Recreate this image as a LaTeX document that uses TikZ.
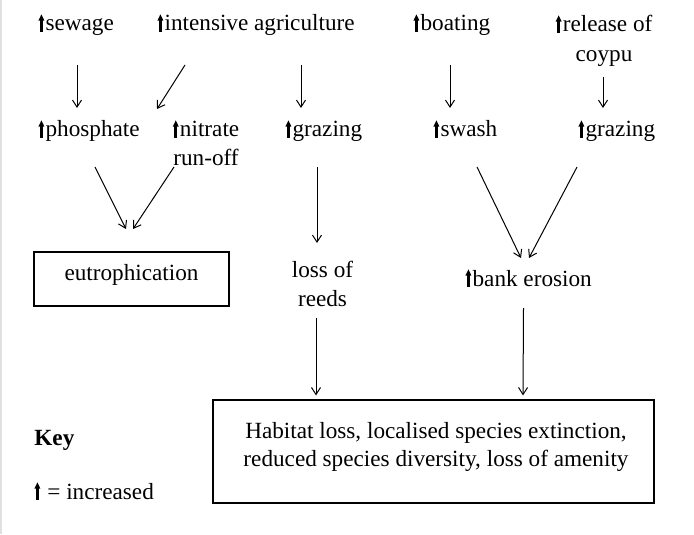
\documentclass[tikz,border=0pt]{standalone}
\usepackage{fontspec}
\setmainfont{Liberation Serif}
\usetikzlibrary{arrows.meta}
\newcommand{\incr}{\tikz[baseline=0pt]{\fill (0.85pt,-0.3pt) rectangle (2.15pt,5.6pt); \fill (0pt,5.2pt) -- (3pt,5.2pt) -- (1.5pt,8.3pt) -- cycle;}\kern0.6pt}
\tikzset{
  txt/.style={inner sep=0pt, font=\fontsize{11.6}{14.5}\selectfont},
  arr/.style={line width=0.5pt, -{Straight Barb[length=3.5pt,width=4.5pt]}},
  boxnode/.style={draw, line width=0.6pt, inner sep=0pt}
}
\begin{document}
\begin{tikzpicture}[x=0.5pt,y=-0.5pt]
\useasboundingbox (0,0) rectangle (694,534);
\fill[white] (0,0) rectangle (694,534);
\draw[black!12, line width=0.8pt] (0.8,0) -- (0.8,534);
% top row
\node[txt,anchor=base west] (sew) at (38,31) {\incr sewage};
\node[txt,anchor=base west] (int) at (157,31) {\incr intensive agriculture};
\node[txt,anchor=base west] (boat) at (413,31) {\incr boating};
\node[txt,anchor=base,align=center,font=\fontsize{11.6}{15}\selectfont] (rel) at (604,62) {\incr release of\\coypu};
% second row
\node[txt,anchor=base west] (phos) at (38,137) {\incr phosphate};
\node[txt,anchor=base,align=center,font=\fontsize{11.6}{14}\selectfont] (nit) at (206,165) {\incr nitrate\\run-off};
\node[txt,anchor=base west] (graz1) at (285,137) {\incr grazing};
\node[txt,anchor=base west] (swash) at (433,137) {\incr swash};
\node[txt,anchor=base west] (graz2) at (578,137) {\incr grazing};
% third row
\node[boxnode,txt,minimum width=97.5pt,minimum height=27pt,text height=8pt,text depth=7pt] (eut) at (131.5,279) {eutrophication};
\node[txt,anchor=base,align=center,font=\fontsize{11.6}{14.5}\selectfont] (loss) at (322.5,306) {loss of\\reeds};
\node[txt,anchor=base west] (bank) at (465,286) {\incr bank erosion};
% bottom
\node[boxnode,minimum width=220.5pt,minimum height=51.5pt] (hab) at (433.5,451.5) {};
\node[txt,anchor=base,align=center,font=\fontsize{11.6}{14}\selectfont] (habt) at (436,466) {Habitat loss, localised species extinction,\\reduced species diversity, loss of amenity};
\node[txt,anchor=base west,font=\fontsize{11.6}{14}\selectfont\bfseries] (key) at (34,445) {Key};
\node[txt,anchor=base west] (keyt) at (34,499) {\incr{} = increased};
% connectors
\draw[arr] ([shift={(39,34)}]sew.base west) -- ([shift={(39,-29)}]phos.base west);
\draw[arr] ([shift={(28,34)}]int.base west) -- ([shift={(-49,-56)}]nit.base);
\draw[arr] ([shift={(144,34)}]int.base west) -- ([shift={(16,-29)}]graz1.base west);
\draw[arr] ([shift={(37,34)}]boat.base west) -- ([shift={(17,-29)}]swash.base west);
\draw[arr] ([shift={(-1,15)}]rel.base) -- ([shift={(25,-29)}]graz2.base west);
\draw[arr] ([shift={(57,30)}]phos.base west) -- ([shift={(-5.5,-50)}]eut.center);
\draw[arr] ([shift={(-32,2)}]nit.base) -- ([shift={(1.5,-50)}]eut.center);
\draw[arr] ([shift={(32,30)}]graz1.base west) -- ([shift={(32,106)}]graz1.base west);
\draw[arr] ([shift={(44,30)}]swash.base west) -- ([shift={(56,-28)}]bank.base west);
\draw[arr] ([shift={(-1,30)}]graz2.base west) -- ([shift={(64,-28)}]bank.base west);
\draw[arr] ([shift={(-6.5,12)}]loss.base) -- ([shift={(-117.5,-4)}]hab.north);
\draw[arr] ([shift={(58.5,22)}]bank.base west) -- ([shift={(89.5,-4)}]hab.north);
\end{tikzpicture}
\end{document}
